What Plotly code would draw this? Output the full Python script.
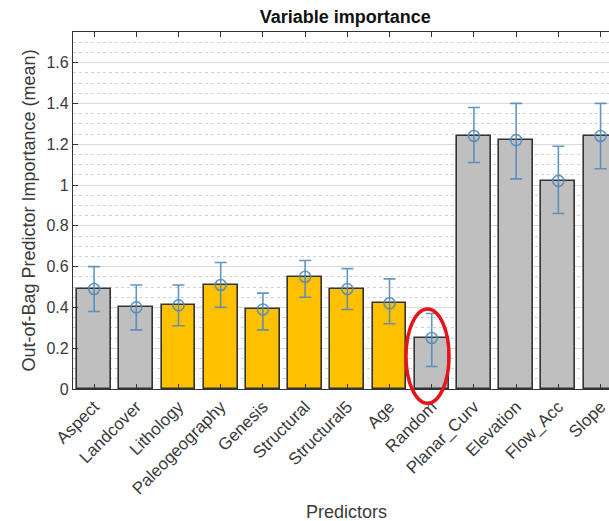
import plotly.graph_objects as go

predictors = ["Aspect", "Landcover", "Lithology", "Paleogeography", "Genesis",
              "Structural", "Structural5", "Age", "Random", "Planar_Curv",
              "Elevation", "Flow_Acc", "Slope"]
importance = [0.49, 0.40, 0.41, 0.51, 0.39, 0.55, 0.49, 0.42, 0.25, 1.24, 1.22, 1.02, 1.24]
upper = [0.60, 0.51, 0.51, 0.62, 0.47, 0.63, 0.59, 0.54, 0.37, 1.38, 1.40, 1.19, 1.40]
lower = [0.38, 0.29, 0.31, 0.40, 0.29, 0.45, 0.39, 0.32, 0.11, 1.11, 1.03, 0.86, 1.08]
highlighted = [False, False, True, True, True, True, True, True, False, False, False, False, False]
y_ticks = [0, 0.2, 0.4, 0.6, 0.8, 1.0, 1.2, 1.4, 1.6]

xpos = list(range(1, len(predictors) + 1))
err_plus = [u - m for u, m in zip(upper, importance)]
err_minus = [m - l for m, l in zip(importance, lower)]
colors = ["#FFC000" if h else "#BFBFBF" for h in highlighted]

ERR = "rgba(80,140,190,0.9)"
FONT = "Liberation Sans, Arial, sans-serif"
TXT = "#3a3a3a"

fig = go.Figure()
fig.add_trace(go.Bar(
    x=xpos, y=importance, width=0.8,
    marker=dict(color=colors, line=dict(color="#333333", width=1.6)),
    error_y=dict(type="data", symmetric=False, array=err_plus, arrayminus=err_minus,
                 color=ERR, thickness=1.6, width=6),
    showlegend=False,
))
fig.add_trace(go.Scatter(
    x=xpos, y=importance, mode="markers",
    marker=dict(symbol="circle-open", size=11, color=ERR, line=dict(width=1.6, color=ERR)),
    showlegend=False,
))

# red ellipse around "Random"
ri = predictors.index("Random") + 1
fig.add_shape(type="circle", xref="x", yref="y domain",
              x0=ri - 0.61, x1=ri + 0.41, y0=-0.04, y1=0.224,
              line=dict(color="#E8141C", width=3.5), layer="above")

fig.update_layout(
    width=609, height=521,
    margin=dict(l=73, r=0, t=32, b=132),
    plot_bgcolor="white", paper_bgcolor="white",
    font=dict(family=FONT, color=TXT),
    bargap=0,
    title=dict(text="<b>Variable importance</b>", x=0.508, xref="paper",
               xanchor="center", y=1 - 17 / 521, yref="container", yanchor="middle",
               font=dict(size=18, color="#111111", family=FONT)),
    xaxis=dict(
        range=[0.5, 13.2], tickmode="array", tickvals=xpos, ticktext=predictors,
        tickangle=-45, tickfont=dict(size=17, color=TXT),
        ticklabeloverflow="allow",
        ticks="inside", ticklen=5, tickcolor="#333333",
        showline=True, linecolor="#333333", linewidth=1.2, mirror="ticks",
        showgrid=False, zeroline=False,
    ),
    yaxis=dict(
        range=[0, 1.75], tickmode="array", tickvals=y_ticks,
        ticktext=[("%g" % v) for v in y_ticks],
        tickfont=dict(size=16, color=TXT),
        ticks="inside", ticklen=5, tickcolor="#333333",
        showline=True, linecolor="#333333", linewidth=1.2,
        showgrid=True, gridcolor="#D9D9D9", gridwidth=1, zeroline=False,
        minor=dict(dtick=0.05, tick0=0, showgrid=True, gridcolor="#D2D2D2",
                   griddash="dot", gridwidth=1),
    ),
    annotations=[
        dict(text="Out-of-Bag Predictor Importance (mean)", textangle=-90,
             xref="paper", yref="paper", x=(28 - 73) / 536, y=0.5,
             xanchor="center", yanchor="middle", showarrow=False,
             font=dict(size=18, color=TXT, family=FONT)),
        dict(text="Predictors", xref="paper", yref="paper",
             x=(346.5 - 73) / 536, y=-(512 - 389) / 357,
             xanchor="center", yanchor="middle", showarrow=False,
             font=dict(size=18, color=TXT, family=FONT)),
    ],
)

fig.write_html("out.html")
